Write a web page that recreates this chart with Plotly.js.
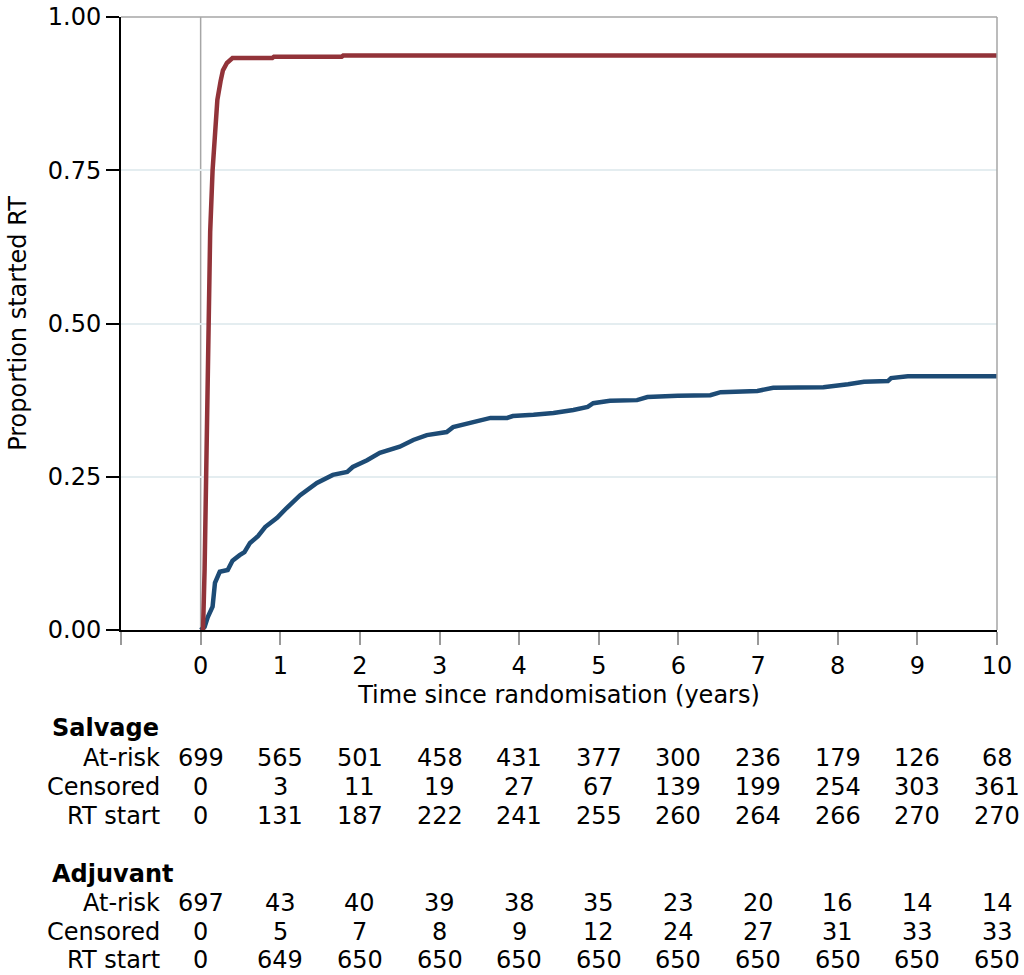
<!DOCTYPE html>
<html>
<head>
<meta charset="utf-8">
<script src="https://cdn.plot.ly/plotly-3.0.1.min.js"></script>
<style>html,body{margin:0;padding:0;background:#fff;}#chart{width:1024px;height:975px;}</style>
</head>
<body>
<div id="chart"></div>
<script>
// Adjuvant (red) cumulative proportion started RT
const adjT = [0, 0.03, 0.05, 0.07, 0.08, 0.10, 0.12, 0.15, 0.18, 0.21, 0.25, 0.28, 0.33, 0.40, 0.90, 0.92, 1.77, 1.79, 10];
const adjV = [0, 0, 0.10, 0.25, 0.40, 0.52, 0.65, 0.75, 0.82, 0.865, 0.895, 0.913, 0.925, 0.933, 0.933, 0.935, 0.935, 0.937, 0.937];

// Salvage (blue)
const salT = [0, 0.05, 0.09, 0.15, 0.18, 0.24, 0.34, 0.40, 0.49, 0.55, 0.62, 0.72, 0.81, 0.96, 1.08, 1.16, 1.25, 1.46, 1.66, 1.84, 1.91, 2.09, 2.25, 2.50, 2.67, 2.84, 3.09, 3.17, 3.42, 3.64, 3.85, 3.92, 4.18, 4.43, 4.68, 4.86, 4.93, 5.14, 5.48, 5.61, 5.99, 6.40, 6.53, 6.99, 7.19, 7.82, 8.13, 8.33, 8.63, 8.67, 8.88, 10];
const salV = [0, 0.005, 0.021, 0.038, 0.077, 0.095, 0.098, 0.113, 0.122, 0.127, 0.142, 0.153, 0.168, 0.183, 0.199, 0.209, 0.220, 0.240, 0.253, 0.258, 0.266, 0.277, 0.289, 0.299, 0.310, 0.318, 0.323, 0.331, 0.339, 0.346, 0.346, 0.349, 0.351, 0.354, 0.359, 0.364, 0.370, 0.374, 0.375, 0.380, 0.382, 0.383, 0.388, 0.390, 0.395, 0.396, 0.401, 0.405, 0.406, 0.411, 0.414, 0.414];

// Risk table
const tableYears = [0, 1, 2, 3, 4, 5, 6, 7, 8, 9, 10];
const rowLabels = ["At-risk", "Censored", "RT start"];
const salAtRisk = [699, 565, 501, 458, 431, 377, 300, 236, 179, 126, 68];
const salCensored = [0, 3, 11, 19, 27, 67, 139, 199, 254, 303, 361];
const salRTstart = [0, 131, 187, 222, 241, 255, 260, 264, 266, 270, 270];
const adjAtRisk = [697, 43, 40, 39, 38, 35, 23, 20, 16, 14, 14];
const adjCensored = [0, 5, 7, 8, 9, 12, 24, 27, 31, 33, 33];
const adjRTstart = [0, 649, 650, 650, 650, 650, 650, 650, 650, 650, 650];

const xTickVals = [-1, 0, 1, 2, 3, 4, 5, 6, 7, 8, 9, 10];
const xTickText = ["", "0", "1", "2", "3", "4", "5", "6", "7", "8", "9", "10"];
const yTickVals = [0, 0.25, 0.5, 0.75, 1];
const yTickText = ["0.00", "0.25", "0.50", "0.75", "1.00"];

const FONT = "DejaVu Sans, sans-serif";
const FS = 24;
const plotTop = 17, plotBottom = 630, plotLeft = 121, plotRight = 997;
const pyToPaper = py => (plotBottom - py) / (plotBottom - plotTop);
const pxToPaper = px => (px - plotLeft) / (plotRight - plotLeft);

const traces = [
  {x: salT, y: salV, mode: "lines", line: {color: "#1d4b75", width: 4.5}, name: "Salvage", hoverinfo: "skip"},
  {x: adjT, y: adjV, mode: "lines", line: {color: "#923339", width: 4.5}, name: "Adjuvant", hoverinfo: "skip"}
];

const annotations = [];
function addBlock(title, titlePy, rows, rowPys) {
  annotations.push({text: "<b>" + title + "</b>", xref: "paper", yref: "paper", x: pxToPaper(51), y: pyToPaper(titlePy),
    xanchor: "left", yanchor: "middle", showarrow: false, borderpad: 0, font: {family: FONT, size: FS, color: "#000"}});
  rows.forEach((vals, i) => {
    annotations.push({text: rowLabels[i], xref: "paper", yref: "paper", x: pxToPaper(161), y: pyToPaper(rowPys[i]),
      xanchor: "right", yanchor: "middle", showarrow: false, borderpad: 0, font: {family: FONT, size: FS, color: "#000"}});
    vals.forEach((v, j) => {
      annotations.push({text: String(v), xref: "x", yref: "paper", x: tableYears[j], y: pyToPaper(rowPys[i]),
        xanchor: "center", yanchor: "middle", showarrow: false, borderpad: 0, font: {family: FONT, size: FS, color: "#000"}});
    });
  });
}
addBlock("Salvage", 728, [salAtRisk, salCensored, salRTstart], [758, 787, 816]);
addBlock("Adjuvant", 874, [adjAtRisk, adjCensored, adjRTstart], [903, 932, 960]);

const layout = {
  width: 1024, height: 975,
  margin: {l: plotLeft, r: 1024 - plotRight, t: plotTop, b: 975 - plotBottom, pad: 0},
  paper_bgcolor: "#fff", plot_bgcolor: "#fff",
  showlegend: false,
  font: {family: FONT, size: FS, color: "#000"},
  xaxis: {
    range: [-1, 10], tickvals: xTickVals, ticktext: xTickText,
    showgrid: false, zeroline: false, showline: true, linecolor: "#000", linewidth: 2,
    ticks: "outside", ticklen: 13, tickwidth: 2, tickcolor: "#999",
    tickfont: {family: FONT, size: FS, color: "#000"},
    title: {text: "Time since randomisation (years)", standoff: 7, font: {family: FONT, size: FS, color: "#000"}},
    automargin: false
  },
  yaxis: {
    range: [0, 1], tickvals: yTickVals, ticktext: yTickText,
    showgrid: true, gridcolor: "#e4edf0", gridwidth: 2, zeroline: false,
    showline: true, linecolor: "#000", linewidth: 2,
    ticks: "outside", ticklen: 13, tickwidth: 2, tickcolor: "#000",
    ticklabeloverflow: "allow",
    tickfont: {family: FONT, size: FS, color: "#000"},
    title: {text: "Proportion started RT", standoff: 14, font: {family: FONT, size: FS, color: "#000"}},
    automargin: false
  },
  shapes: [
    {type: "line", xref: "x", yref: "paper", x0: 0, x1: 0, y0: 0, y1: 1, line: {color: "#a6a6a6", width: 1.5}, layer: "below"},
    {type: "line", xref: "paper", yref: "paper", x0: 0, x1: 1, y0: 1, y1: 1, line: {color: "#a6a6a6", width: 1.5}},
    {type: "line", xref: "paper", yref: "paper", x0: 1, x1: 1, y0: 0, y1: 1, line: {color: "#a6a6a6", width: 1.5}}
  ],
  annotations: annotations
};

Plotly.newPlot("chart", traces, layout, {staticPlot: true, displayModeBar: false});
</script>
</body>
</html>
